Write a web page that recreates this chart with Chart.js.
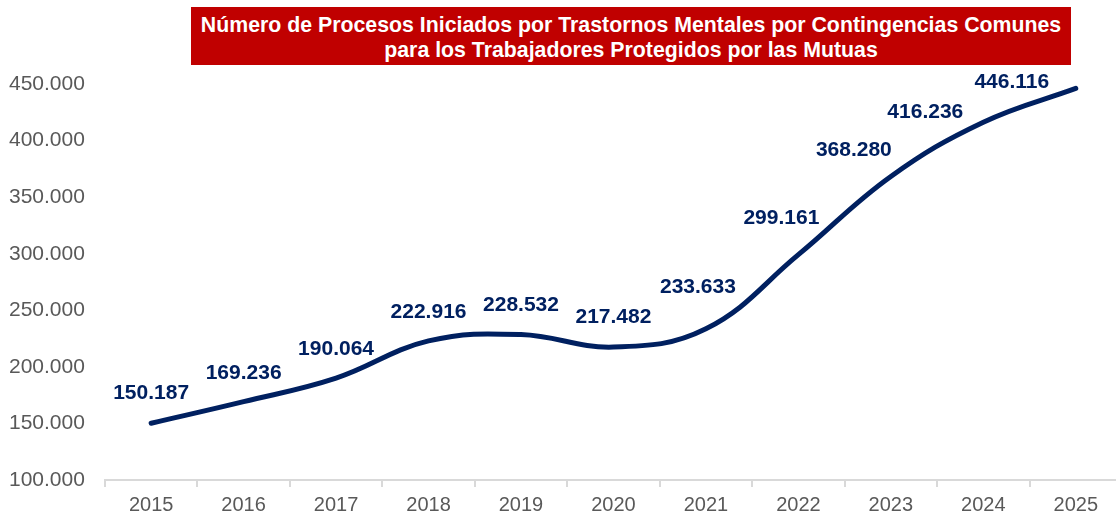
<!DOCTYPE html>
<html>
<head>
<meta charset="utf-8">
<script src="https://cdn.jsdelivr.net/npm/chart.js@4.4.1/dist/chart.umd.min.js"></script>
<style>
  html, body { margin: 0; padding: 0; background: #fff; overflow: hidden; }
  #wrap { position: relative; width: 1116px; height: 514px; overflow: hidden; }
  #titulo {
    position: absolute; left: 191px; top: 7px; width: 880px; height: 58px;
    background: #c00000; color: #fff; text-align: center;
    font: bold 21.3px "Liberation Sans", Arial, sans-serif; line-height: 25px;
    padding-top: 6px; box-sizing: border-box; z-index: 2;
  }
</style>
</head>
<body>
<div id="wrap">
  <canvas id="grafico" width="1122" height="525"></canvas>
  <div id="titulo">Número de Procesos Iniciados por Trastornos Mentales por Contingencias Comunes<br>para los Trabajadores Protegidos por las Mutuas</div>
</div>
<script>
var anios = ["2015", "2016", "2017", "2018", "2019", "2020", "2021", "2022", "2023", "2024", "2025"]
var procesos = [150187, 169236, 190064, 222916, 228532, 217482, 233633, 299161, 368280, 416236, 446116]

var ejeMin = 100000
var ejeMax = 450000
var ejePaso = 50000

// desplazamiento de cada etiqueta respecto a su punto (dx, dy)
var desplEtiquetas = [[0, -30], [0, -28], [0, -29], [0, -29], [0, -29], [0, -30], [-8, -42], [-17, -36], [-37, -26], [-58, -10], [-64, -6]]

function formatoMiles(n) {
    return String(Math.round(n)).replace(/\B(?=(\d{3})+(?!\d))/g, ".")
}

var etiquetasPlugin = {
    id: "etiquetas",
    afterDatasetsDraw: function(chart) {
        var ctx = chart.ctx
        var meta = chart.getDatasetMeta(0)
        ctx.save()
        ctx.font = "bold 21px 'Liberation Sans', Arial, sans-serif"
        ctx.fillStyle = "#002060"
        ctx.textAlign = "center"
        ctx.textBaseline = "middle"
        meta.data.forEach(function(p, i) {
            var d = desplEtiquetas[i]
            ctx.fillText(formatoMiles(procesos[i]), p.x + d[0], p.y + d[1])
        })
        ctx.restore()
    }
}

var grafico = new Chart(document.getElementById("grafico"), {
    type: "line",
    data: {
        labels: anios,
        datasets: [{
            data: procesos,
            borderColor: "#002060",
            borderWidth: 5,
            borderCapStyle: "round",
            pointRadius: 0,
            tension: 0.4,
            fill: false
        }]
    },
    options: {
        responsive: false,
        animation: false,
        layout: { padding: { left: -3, top: 84, right: 0, bottom: 2 } },
        plugins: { legend: { display: false }, tooltip: { enabled: false } },
        scales: {
            x: {
                offset: true,
                grid: { offset: true, drawOnChartArea: false, drawTicks: true, tickLength: 7, color: "#d9d9d9", lineWidth: 2 },
                border: { display: true, color: "#d9d9d9", width: 2 },
                ticks: { color: "#595959", font: { family: "'Liberation Sans', Arial, sans-serif", size: 20 }, padding: 6, maxRotation: 0 }
            },
            y: {
                min: ejeMin,
                max: ejeMax,
                grid: { display: false },
                border: { display: false },
                ticks: {
                    stepSize: ejePaso,
                    color: "#595959",
                    padding: 12,
                    font: { family: "'Liberation Sans', Arial, sans-serif", size: 21 },
                    callback: function(v) { return formatoMiles(v) }
                }
            }
        }
    },
    plugins: [etiquetasPlugin]
})
</script>
</body>
</html>
